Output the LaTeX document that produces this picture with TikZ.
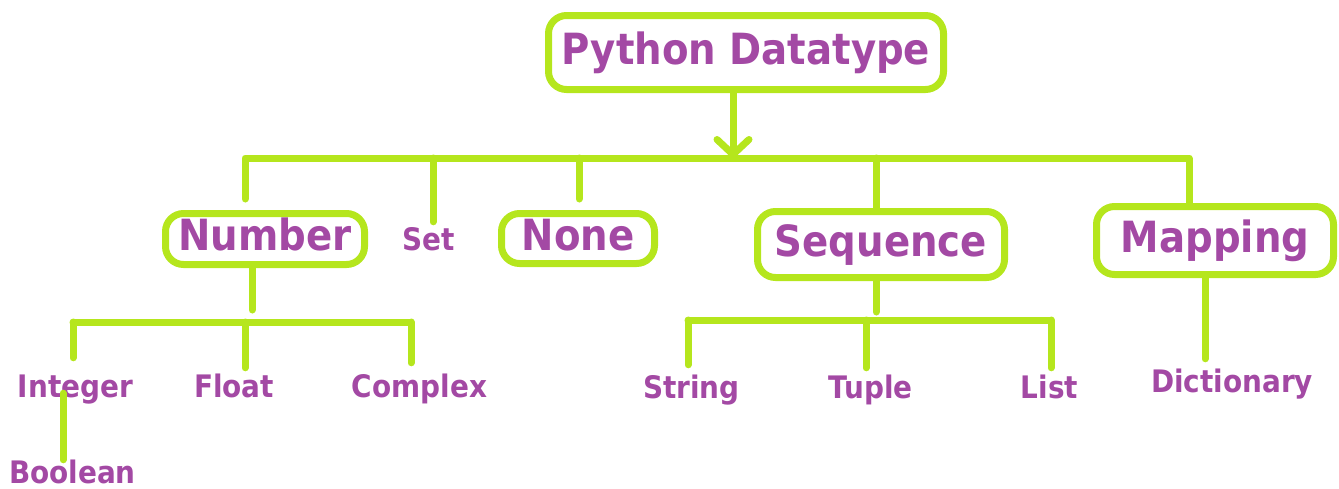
\documentclass[tikz,border=0pt]{standalone}
\usepackage{fontspec}
\setmainfont{DejaVu Sans Condensed}
\usetikzlibrary{arrows.meta}
\definecolor{lime}{HTML}{B5E61D}
\definecolor{plum}{HTML}{A349A4}
\begin{document}
\begin{tikzpicture}[x=1pt,y=-1pt,
  link/.style={draw=lime,line width=7pt,line cap=round,line join=round},
  bigbox/.style={draw=lime,line width=7pt,rounded corners=18pt,inner sep=0pt,
    text=plum,font=\bfseries\fontsize{43}{43}\selectfont,text height=31pt,text depth=8pt},
  leaf/.style={inner sep=0pt,text=plum,font=\bfseries\fontsize{31}{31}\selectfont,
    text height=23pt,text depth=0pt,anchor=base}]
\useasboundingbox (0,0) rectangle (1339,488);

% boxed categories
\node[bigbox,minimum width=395pt,minimum height=74pt] (py)   at (746,52.5)  {Python Datatype};
\node[bigbox,minimum width=199pt,minimum height=51pt] (num)  at (265,239)   {Number};
\node[bigbox,minimum width=153pt,minimum height=50pt] (none) at (578,238.5) {None};
\node[bigbox,minimum width=247pt,minimum height=66pt] (seq)  at (881,244.5) {Sequence};
\node[bigbox,minimum width=237pt,minimum height=68pt] (map)  at (1215,240.5){Mapping};

% plain labels
\node[leaf] (set)  at (428.5,250) {Set};
\node[leaf] (int)  at (75.5,397)  {Integer};
\node[leaf] (flt)  at (234,397)   {Float};
\node[leaf] (cpx)  at (419.5,397) {Complex};
\node[leaf] (bool) at (72.5,483)  {Boolean};
\node[leaf] (str)  at (691.5,398) {String};
\node[leaf] (tup)  at (870.5,398) {Tuple};
\node[leaf] (lst)  at (1049.5,398){List};
\node[leaf] (dict) at (1232,392)  {Dictionary};

% junctions on the bars
\coordinate (jNum)  at (245,158);
\coordinate (jSet)  at (433,158);
\coordinate (jNone) at (579,158);
\coordinate (jArr)  at (733,158);
\coordinate (jSeq)  at (876,158);
\coordinate (jMap)  at (1189,158);
\coordinate (nT) at (252,322);
\coordinate (nI) at (73,322);
\coordinate (nF) at (245,322);
\coordinate (nC) at (411,322);
\coordinate (sT) at (876,320);
\coordinate (sS) at (688,320);
\coordinate (sU) at (866,320);
\coordinate (sL) at (1051,320);
\coordinate (xBool) at (63,440);

% top level
\draw[link,-{Straight Barb[length=15pt,width=32pt,round]}] (jArr |- py.south) -- (jArr);
\draw[link,shorten <=11pt] (jNum |- num.north) -- (jNum) -- (jMap) -- (jMap |- map.north);
\draw[link,shorten >=5pt] (jSet) -- (jSet |- set.north);
\draw[link,shorten >=11pt] (jNone) -- (jNone |- none.north);
\draw[link] (jSeq) -- (jSeq |- seq.north);

% numbers
\draw[link,shorten >=12pt] (num.south -| nT) -- (nT);
\draw[link] (nI) -- (nC);
\draw[link,shorten >=16pt] (nI) -- (nI |- int.north);
\draw[link,shorten >=6pt] (nF) -- (nF |- flt.north);
\draw[link,shorten >=11pt] (nC) -- (nC |- cpx.north);
\draw[link,shorten <=-4pt] (xBool |- int.south) -- (xBool |- bool.north);

% sequences
\draw[link,shorten >=8pt] (seq.south -| sT) -- (sT);
\draw[link] (sS) -- (sL);
\draw[link,shorten >=10pt] (sS) -- (sS |- str.north);
\draw[link,shorten >=7pt] (sU) -- (sU |- tup.north);
\draw[link,shorten >=7pt] (sL) -- (sL |- lst.north);

% mapping
\draw[link,shorten >=10pt] ([xshift=-10pt]map.south) -- ([xshift=-27pt]dict.north);
\end{tikzpicture}
\end{document}
